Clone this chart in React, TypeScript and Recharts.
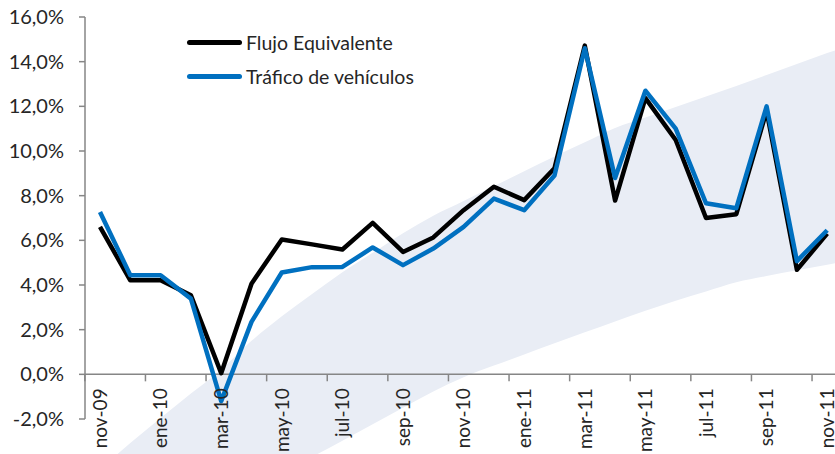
import React from "react";
import { AreaChart, Area, LineChart, Line, XAxis, YAxis, ReferenceLine, Legend } from "recharts";

// month labels (nov-09 .. nov-11)
const months = [
  "nov-09", "dic-09", "ene-10", "feb-10", "mar-10", "abr-10", "may-10", "jun-10",
  "jul-10", "ago-10", "sep-10", "oct-10", "nov-10", "dic-10", "ene-11", "feb-11",
  "mar-11", "abr-11", "may-11", "jun-11", "jul-11", "ago-11", "sep-11", "oct-11", "nov-11",
];

// % year-on-year
const flujoEquivalente = [
  6.6, 4.21, 4.21, 3.54, 0.05, 4.06, 6.04, 5.82, 5.59, 6.78, 5.48, 6.13, 7.35,
  8.4, 7.8, 9.23, 14.72, 7.78, 12.37, 10.49, 7.0, 7.17, 11.8, 4.68, 6.3,
];
const traficoVehiculos = [
  7.27, 4.44, 4.44, 3.39, -1.2, 2.35, 4.56, 4.8, 4.81, 5.68, 4.89, 5.63, 6.6,
  7.87, 7.35, 8.9, 14.6, 8.79, 12.7, 11.0, 7.66, 7.44, 12.0, 5.07, 6.45,
];

// background fan (one extra month on the right so it reaches the edge)
const bandMonths = [...months, "dic-11"];
const bandLow = [
  -9.2, -8.4, -7.6, -6.8, -6.0, -5.2, -4.45, -3.7, -2.97, -2.24, -1.5, -0.77, -0.13,
  0.39, 0.89, 1.39, 1.88, 2.37, 2.85, 3.3, 3.71, 4.12, 4.4, 4.66, 4.91, 5.15,
];
const bandHigh = [
  -4.25, -3.08, -1.96, -0.86, 0.21, 1.5, 2.6, 3.6, 4.57, 5.44, 6.32, 7.1, 7.76,
  8.43, 9.09, 9.75, 10.39, 11.03, 11.5, 11.97, 12.44, 12.91, 13.4, 13.89, 14.39, 14.8,
];

const yTicks = [-2, 0, 2, 4, 6, 8, 10, 12, 14, 16];

const lineData = months.map((m, i) => ({
  m,
  flujo: flujoEquivalente[i],
  trafico: traficoVehiculos[i],
}));
const bandData = bandMonths.map((m, i) => ({ m, band: [bandLow[i], bandHigh[i]] }));

const FONT = "Lato, 'Open Sans', sans-serif";
const TEXT = "#262626";
const AXIS = "#868686";

const TOP = 17;
const X_AXIS_H = 35;
const HEIGHT = 454;
const PX = (HEIGHT - TOP - X_AXIS_H) / 18; // px per 1%
const ZERO_Y = HEIGHT - X_AXIS_H - 2 * PX;
const LEFT = 85;
const FIRST_X = 100;
const STEP = 30.3;
const WIDTH = 850;
const BAND_WIDTH = 870;

const fmt = (v: number) => `${v.toFixed(1).replace(".", ",")}%`;

function MonthTick({ x, payload }: any) {
  return (
    <g transform={`translate(${x},${ZERO_Y})`}>
      <line x1={-STEP / 2} x2={-STEP / 2} y1={0} y2={7} stroke={AXIS} strokeWidth={1.5} />
      <text
        transform="rotate(-90)"
        x={-14}
        y={0}
        dy="0.36em"
        textAnchor="end"
        fill={TEXT}
        fontSize={19}
        fontFamily={FONT}
      >
        {payload.value}
      </text>
    </g>
  );
}

function LegendBox({ payload }: any) {
  return (
    <div style={{ fontFamily: FONT, fontSize: 19.5, color: TEXT }}>
      {(payload || []).map((p: any) => (
        <div key={p.value} style={{ display: "flex", alignItems: "center", height: 34.4 }}>
          <span
            style={{ display: "inline-block", width: 55, height: 5, borderRadius: 3, background: p.color }}
          />
          <span style={{ marginLeft: 4 }}>{p.value}</span>
        </div>
      ))}
    </div>
  );
}

export default function App() {
  const padRight = WIDTH - (FIRST_X + STEP * (months.length - 1));
  const bandPadRight = BAND_WIDTH - (FIRST_X + STEP * (bandMonths.length - 1));
  const bandHeight = TOP + 26 * PX;

  return (
    <div
      style={{
        position: "fixed",
        left: 0,
        top: 0,
        width: 835,
        height: 454,
        overflow: "hidden",
        background: "#fff",
      }}
    >
      <div style={{ position: "absolute", left: 0, top: 0 }}>
        <AreaChart
          width={BAND_WIDTH}
          height={bandHeight}
          data={bandData}
          margin={{ top: TOP, right: 0, bottom: 0, left: LEFT }}
        >
          <XAxis dataKey="m" hide padding={{ left: FIRST_X - LEFT, right: bandPadRight }} />
          <YAxis hide domain={[-10, 16]} allowDataOverflow />
          <Area
            type="monotone"
            dataKey="band"
            fill="#E9EDF5"
            fillOpacity={1}
            stroke="none"
            isAnimationActive={false}
          />
        </AreaChart>
      </div>
      <div style={{ position: "absolute", left: 0, top: 0 }}>
        <LineChart
          width={WIDTH}
          height={HEIGHT}
          data={lineData}
          margin={{ top: TOP, right: 0, bottom: 0, left: 0 }}
        >
          <XAxis
            dataKey="m"
            interval={1}
            height={X_AXIS_H}
            axisLine={false}
            tickLine={false}
            tickSize={0}
            tickMargin={0}
            tick={<MonthTick />}
            padding={{ left: FIRST_X - LEFT, right: padRight }}
          />
          <YAxis
            width={LEFT}
            domain={[-2, 16]}
            ticks={yTicks}
            tickFormatter={fmt}
            axisLine={{ stroke: AXIS, strokeWidth: 1.5 }}
            tickLine={{ stroke: AXIS, strokeWidth: 1.5 }}
            tickSize={6}
            tickMargin={15}
            tick={{ fill: TEXT, fontSize: 20, fontFamily: FONT }}
          />
          <ReferenceLine y={0} stroke={AXIS} strokeWidth={1.5} />
          <Legend
            layout="vertical"
            verticalAlign="middle"
            align="center"
            content={<LegendBox />}
            wrapperStyle={{ top: 25, left: 187, width: 260 }}
          />
          <Line
            type="linear"
            dataKey="flujo"
            name="Flujo Equivalente"
            stroke="#000000"
            strokeWidth={4.5}
            strokeLinejoin="round"
            dot={false}
            isAnimationActive={false}
          />
          <Line
            type="linear"
            dataKey="trafico"
            name="Tráfico de vehículos"
            stroke="#0070C0"
            strokeWidth={4.5}
            strokeLinejoin="round"
            dot={false}
            isAnimationActive={false}
          />
        </LineChart>
      </div>
    </div>
  );
}
